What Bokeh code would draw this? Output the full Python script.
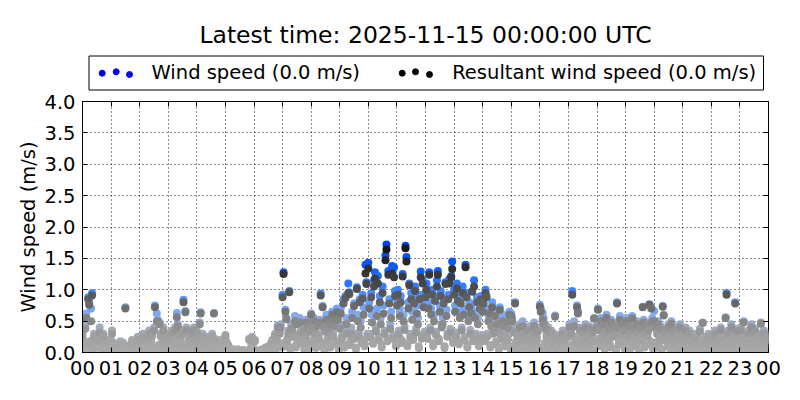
from bokeh.plotting import figure
from bokeh.models import ColumnDataSource, Range1d, FixedTicker, LinearAxis, LinearColorMapper, CustomJSTickFormatter, PrintfTickFormatter
from bokeh.layouts import column
from bokeh.embed import file_html
from bokeh.resources import INLINE
from bokeh.core.properties import value

TITLE = "Latest time: 2025-11-15 00:00:00 UTC"
LEGEND_LABELS = ["Wind speed (0.0 m/s)", "Resultant wind speed (0.0 m/s)"]
Y_LABEL = "Wind speed (m/s)"
HOUR_TICKS = list(range(25))
HOUR_LABELS = ["00", "01", "02", "03", "04", "05", "06", "07", "08", "09", "10", "11",
               "12", "13", "14", "15", "16", "17", "18", "19", "20", "21", "22", "23", "00"]
Y_TICKS = [0.0, 0.5, 1.0, 1.5, 2.0, 2.5, 3.0, 3.5, 4.0]
SAMPLE_MINUTES = 2

# wind speed (m/s), one row per hour, 2-minute samples
wind_speed = [
    0.35,0.20,0.10,0.45,0.62,0.05,0.88,0.80,0.18,0.70,0.95,0.02,0.30,0.18,0.12,0.25,0.12,0.25,0.40,0.22,0.08,0.08,0.30,0.15,0.15,0.05,0.03,0.20,0.10,0.20,
    0.20,0.35,0.05,0.15,0.10,0.12,0.05,0.12,0.02,0.08,0.18,0.08,0.10,0.15,0.00,0.72,0.06,0.10,0.10,0.04,0.04,0.12,0.20,0.15,0.08,0.15,0.01,0.10,0.25,0.06,
    0.15,0.25,0.08,0.10,0.30,0.15,0.20,0.12,0.03,0.28,0.35,0.20,0.18,0.30,0.10,0.40,0.75,0.05,0.62,0.52,0.12,0.48,0.30,0.02,0.22,0.40,0.18,0.28,0.15,0.06,
    0.20,0.30,0.12,0.15,0.35,0.04,0.25,0.40,0.20,0.63,0.45,0.08,0.30,0.20,0.15,0.35,0.84,0.02,0.66,0.40,0.10,0.30,0.22,0.18,0.35,0.18,0.05,0.40,0.25,0.13,
    0.35,0.28,0.06,0.48,0.64,0.15,0.30,0.20,0.02,0.15,0.25,0.10,0.10,0.18,0.04,0.12,0.30,0.12,0.63,0.22,0.01,0.08,0.15,0.08,0.10,0.20,0.03,0.06,0.12,0.05,
    0.28,0.18,0.02,0.12,0.08,0.00,0.02,0.04,0.05,0.00,0.03,0.01,0.01,0.05,0.00,0.00,0.02,0.03,0.00,0.04,0.00,0.01,0.00,0.02,0.03,0.22,0.00,0.10,0.25,0.08,
    0.05,0.20,0.00,0.02,0.00,0.03,0.03,0.00,0.00,0.05,0.02,0.01,0.08,0.04,0.02,0.10,0.06,0.05,0.15,0.20,0.10,0.12,0.30,0.08,0.25,0.43,0.15,0.35,0.45,0.12,
    0.92,1.28,0.15,0.68,0.55,0.22,0.35,0.98,0.08,0.45,0.40,0.30,0.30,0.58,0.12,0.48,0.25,0.18,0.55,0.35,0.25,0.20,0.40,0.05,0.30,0.52,0.20,0.45,0.38,0.10,
    0.62,0.40,0.20,0.55,0.35,0.10,0.48,0.30,0.28,0.52,0.94,0.15,0.74,0.45,0.05,0.38,0.60,0.22,0.42,0.50,0.12,0.33,0.65,0.30,0.55,0.48,0.18,0.70,0.58,0.08,
    0.45,0.70,0.25,0.35,0.85,0.12,0.90,0.55,0.35,1.10,0.96,0.18,0.40,0.65,0.28,0.78,0.30,0.08,1.04,0.60,0.32,0.85,0.50,0.20,0.92,0.72,0.15,1.40,1.12,0.30,
    1.43,0.80,0.30,0.95,0.60,0.18,1.15,1.28,0.40,0.70,1.22,0.25,0.90,0.55,0.12,1.05,0.75,0.35,1.55,1.72,0.22,1.30,0.85,0.45,0.65,1.38,0.28,1.36,0.98,0.15,
    0.85,1.00,0.35,0.70,0.90,0.20,1.25,0.60,0.42,1.70,1.52,0.15,0.80,1.10,0.30,0.95,0.65,0.25,0.88,1.05,0.38,0.75,0.55,0.10,0.92,1.29,0.28,1.15,0.82,0.33,
    0.95,1.10,0.28,0.80,1.28,0.40,0.70,1.00,0.15,0.60,0.90,0.33,1.15,1.30,0.22,0.75,0.98,0.45,0.55,0.85,0.10,1.12,0.68,0.30,0.92,1.17,0.38,1.22,1.45,0.20,
    1.00,0.75,0.32,1.10,0.90,0.18,0.65,0.85,0.40,1.05,0.70,0.25,1.40,0.95,0.12,0.60,0.80,0.36,0.72,0.98,0.22,1.15,0.65,0.30,0.88,0.55,0.15,0.78,0.90,0.28,
    0.75,0.85,0.22,1.00,0.90,0.30,0.60,0.70,0.12,0.50,0.80,0.35,0.45,0.65,0.18,0.55,0.40,0.08,0.72,0.35,0.28,0.60,0.50,0.15,0.30,0.55,0.25,0.45,0.65,0.10,
    0.62,0.55,0.10,0.40,0.80,0.18,0.35,0.25,0.05,0.45,0.30,0.22,0.50,0.20,0.12,0.38,0.28,0.02,0.15,0.42,0.15,0.32,0.22,0.08,0.48,0.35,0.20,0.25,0.40,0.04,
    0.76,0.70,0.08,0.63,0.55,0.15,0.45,0.30,0.03,0.40,0.25,0.12,0.35,0.20,0.20,0.30,0.59,0.06,0.22,0.15,0.10,0.28,0.18,0.02,0.35,0.25,0.14,0.12,0.30,0.05,
    0.30,0.45,0.12,0.35,0.98,0.05,0.50,0.25,0.20,0.75,0.66,0.10,0.40,0.20,0.02,0.35,0.28,0.15,0.45,0.15,0.08,0.30,0.42,0.18,0.22,0.38,0.04,0.55,0.40,0.22,
    0.45,0.70,0.15,0.40,0.55,0.25,0.30,0.50,0.08,0.35,0.60,0.20,0.42,0.28,0.12,0.52,0.38,0.30,0.48,0.33,0.05,0.80,0.45,0.18,0.58,0.30,0.22,0.50,0.40,0.10,
    0.40,0.55,0.20,0.30,0.48,0.10,0.35,0.58,0.28,0.42,0.25,0.15,0.50,0.38,0.05,0.45,0.30,0.22,0.73,0.52,0.12,0.35,0.47,0.30,0.40,0.77,0.18,0.71,0.55,0.08,
    0.66,0.45,0.12,0.35,0.50,0.20,0.30,0.42,0.05,0.74,0.60,0.25,0.38,0.25,0.15,0.45,0.32,0.08,0.50,0.28,0.18,0.40,0.22,0.02,0.35,0.30,0.10,0.45,0.25,0.14,
    0.30,0.20,0.05,0.40,0.25,0.12,0.15,0.35,0.02,0.22,0.10,0.08,0.30,0.18,0.15,0.28,0.12,0.03,0.38,0.20,0.10,0.48,0.15,0.00,0.25,0.08,0.06,0.30,0.18,0.04,
    0.20,0.30,0.08,0.15,0.35,0.02,0.10,0.25,0.12,0.18,0.40,0.05,0.12,0.28,0.18,0.56,0.95,0.00,0.35,0.22,0.10,0.45,0.15,0.04,0.30,0.80,0.15,0.38,0.25,0.06,
    0.25,0.40,0.10,0.18,0.50,0.04,0.30,0.22,0.15,0.35,0.15,0.02,0.45,0.28,0.08,0.20,0.38,0.12,0.12,0.30,0.00,0.25,0.48,0.06,0.18,0.35,0.18,0.22,0.30,0.03,
]

# resultant wind speed (m/s), same samples
resultant_speed = [
    0.28,0.15,0.07,0.38,0.55,0.03,0.85,0.76,0.14,0.50,0.91,0.01,0.25,0.12,0.09,0.20,0.08,0.20,0.32,0.18,0.05,0.05,0.26,0.11,0.10,0.03,0.02,0.15,0.06,0.16,
    0.15,0.30,0.03,0.10,0.06,0.08,0.03,0.08,0.01,0.05,0.12,0.05,0.06,0.10,0.00,0.70,0.03,0.06,0.06,0.02,0.02,0.08,0.15,0.10,0.05,0.10,0.00,0.06,0.20,0.04,
    0.10,0.20,0.05,0.06,0.25,0.10,0.15,0.08,0.02,0.22,0.30,0.15,0.12,0.26,0.07,0.35,0.72,0.03,0.50,0.50,0.08,0.45,0.26,0.01,0.18,0.35,0.13,0.22,0.10,0.04,
    0.15,0.25,0.08,0.10,0.30,0.02,0.20,0.35,0.15,0.56,0.42,0.05,0.25,0.15,0.10,0.30,0.80,0.01,0.64,0.35,0.06,0.25,0.18,0.13,0.30,0.12,0.03,0.35,0.20,0.09,
    0.30,0.22,0.04,0.45,0.62,0.10,0.25,0.15,0.01,0.10,0.20,0.06,0.06,0.14,0.02,0.08,0.25,0.08,0.62,0.18,0.00,0.05,0.10,0.05,0.06,0.15,0.02,0.03,0.08,0.03,
    0.26,0.15,0.01,0.08,0.05,0.00,0.01,0.02,0.03,0.00,0.02,0.00,0.00,0.03,0.00,0.00,0.01,0.02,0.00,0.02,0.00,0.00,0.00,0.01,0.02,0.20,0.00,0.06,0.22,0.05,
    0.03,0.18,0.00,0.01,0.00,0.02,0.02,0.00,0.00,0.03,0.01,0.00,0.05,0.02,0.01,0.07,0.04,0.03,0.10,0.15,0.06,0.08,0.26,0.05,0.20,0.40,0.10,0.30,0.40,0.08,
    0.88,1.25,0.10,0.65,0.53,0.18,0.30,0.96,0.05,0.38,0.35,0.25,0.25,0.50,0.08,0.45,0.20,0.14,0.48,0.30,0.20,0.15,0.35,0.03,0.26,0.48,0.15,0.40,0.33,0.07,
    0.60,0.35,0.15,0.50,0.30,0.07,0.42,0.26,0.22,0.48,0.91,0.10,0.72,0.40,0.03,0.33,0.52,0.18,0.38,0.45,0.08,0.28,0.60,0.25,0.50,0.42,0.13,0.64,0.52,0.05,
    0.38,0.62,0.20,0.25,0.78,0.08,0.87,0.45,0.30,0.95,0.93,0.12,0.30,0.55,0.22,0.74,0.22,0.05,1.01,0.50,0.26,0.80,0.40,0.15,0.86,0.60,0.10,1.26,1.09,0.25,
    1.34,0.70,0.25,0.88,0.48,0.14,1.05,1.18,0.34,0.58,1.10,0.20,0.80,0.45,0.08,0.95,0.62,0.30,1.47,1.64,0.18,1.24,0.78,0.38,0.55,1.26,0.22,1.20,0.90,0.10,
    0.75,0.92,0.28,0.58,0.80,0.15,1.21,0.50,0.36,1.66,1.45,0.10,0.70,1.07,0.25,0.85,0.52,0.20,0.78,0.98,0.32,0.62,0.45,0.07,0.85,1.20,0.22,1.10,0.72,0.27,
    0.88,1.00,0.22,0.70,1.24,0.35,0.60,0.92,0.10,0.50,0.82,0.28,1.05,1.24,0.18,0.65,0.90,0.40,0.45,0.78,0.07,1.09,0.58,0.25,0.85,1.10,0.32,1.20,1.33,0.15,
    0.92,0.65,0.26,1.02,0.82,0.13,0.55,0.78,0.35,0.95,0.60,0.20,1.36,0.88,0.08,0.50,0.72,0.30,0.62,0.97,0.18,1.05,0.55,0.25,0.80,0.45,0.10,0.70,0.85,0.22,
    0.65,0.78,0.18,0.95,0.88,0.25,0.50,0.62,0.08,0.42,0.72,0.30,0.35,0.58,0.13,0.45,0.32,0.05,0.68,0.28,0.22,0.50,0.42,0.10,0.25,0.48,0.20,0.38,0.60,0.06,
    0.58,0.50,0.07,0.32,0.78,0.13,0.28,0.18,0.03,0.40,0.25,0.17,0.42,0.15,0.08,0.30,0.22,0.01,0.10,0.35,0.10,0.26,0.18,0.05,0.42,0.30,0.15,0.20,0.34,0.02,
    0.73,0.65,0.05,0.52,0.45,0.10,0.38,0.25,0.02,0.35,0.20,0.08,0.30,0.15,0.15,0.25,0.57,0.04,0.18,0.10,0.06,0.22,0.12,0.01,0.30,0.20,0.10,0.08,0.25,0.03,
    0.25,0.40,0.08,0.30,0.92,0.03,0.42,0.20,0.15,0.72,0.62,0.06,0.35,0.15,0.01,0.30,0.22,0.10,0.40,0.10,0.05,0.25,0.38,0.13,0.18,0.32,0.02,0.54,0.35,0.17,
    0.40,0.68,0.10,0.35,0.50,0.20,0.25,0.45,0.05,0.30,0.55,0.15,0.38,0.22,0.08,0.48,0.34,0.25,0.42,0.28,0.03,0.78,0.40,0.13,0.52,0.26,0.17,0.46,0.35,0.06,
    0.35,0.50,0.15,0.25,0.42,0.06,0.30,0.54,0.23,0.38,0.20,0.10,0.45,0.32,0.03,0.40,0.25,0.18,0.72,0.48,0.08,0.30,0.42,0.25,0.35,0.76,0.13,0.70,0.50,0.05,
    0.50,0.40,0.08,0.30,0.45,0.15,0.25,0.38,0.03,0.73,0.59,0.20,0.32,0.20,0.10,0.40,0.28,0.05,0.46,0.22,0.13,0.35,0.18,0.01,0.30,0.25,0.06,0.40,0.20,0.10,
    0.25,0.15,0.03,0.35,0.20,0.08,0.10,0.30,0.01,0.18,0.06,0.05,0.25,0.12,0.10,0.22,0.08,0.02,0.33,0.15,0.06,0.47,0.10,0.00,0.20,0.05,0.04,0.25,0.12,0.02,
    0.15,0.25,0.05,0.10,0.30,0.01,0.06,0.20,0.08,0.12,0.36,0.03,0.08,0.22,0.13,0.55,0.92,0.00,0.30,0.18,0.06,0.40,0.10,0.02,0.25,0.78,0.10,0.34,0.20,0.04,
    0.20,0.35,0.06,0.12,0.48,0.02,0.25,0.18,0.10,0.30,0.10,0.01,0.40,0.22,0.05,0.15,0.33,0.08,0.08,0.25,0.00,0.20,0.46,0.04,0.12,0.30,0.13,0.18,0.25,0.02,
]

sample_hours = [i * SAMPLE_MINUTES / 60.0 for i in range(len(wind_speed))]

FONT = "DejaVu Sans"
FIG_W = 800
BORDER_L, BORDER_R = 82, 32
HEADER_H = 92


def make_palette(stops, n=200):
    out = []
    for i in range(n):
        f = i / (n - 1)
        for (a, ca), (b, cb) in zip(stops[:-1], stops[1:]):
            if a <= f <= b:
                t = (f - a) / (b - a) if b > a else 0
                c = [round(ca[k] + (cb[k] - ca[k]) * t) for k in range(3)]
                out.append("#%02x%02x%02x" % tuple(c))
                break
    return out


wind_palette = make_palette([
    (0.0, (168, 168, 168)), (0.2, (160, 170, 190)), (0.3, (130, 170, 240)),
    (0.4, (100, 160, 255)), (0.5, (60, 130, 255)), (0.65, (20, 95, 255)),
    (0.8, (0, 75, 240)), (1.0, (0, 60, 220))])
res_palette = make_palette([
    (0.0, (170, 170, 170)), (0.125, (160, 160, 160)), (0.25, (135, 135, 135)),
    (0.375, (105, 105, 105)), (0.5, (80, 80, 80)), (0.625, (55, 55, 55)),
    (0.75, (35, 35, 35)), (0.875, (15, 15, 15)), (1.0, (0, 0, 0))])

wind_mapper = LinearColorMapper(palette=wind_palette, low=0.0, high=2.0)
res_mapper = LinearColorMapper(palette=res_palette, low=0.0, high=2.0)

source = ColumnDataSource(dict(t=sample_hours, ws=wind_speed, rs=resultant_speed))

p = figure(width=FIG_W, height=400 - HEADER_H, x_range=Range1d(0, 24), y_range=Range1d(0, 4),
           output_backend="svg", toolbar_location=None,
           min_border_left=BORDER_L, min_border_right=BORDER_R, min_border_top=9, min_border_bottom=48)
p.outline_line_color = "black"
p.outline_line_width = 1

p.scatter(x="t", y="ws", source=source, size=8, line_color=None,
          fill_color={"field": "ws", "transform": wind_mapper})
p.scatter(x="t", y="rs", source=source, size=8, line_color=None,
          fill_color={"field": "rs", "transform": res_mapper})

p.xaxis.ticker = FixedTicker(ticks=HOUR_TICKS)
p.xaxis.major_label_overrides = {t: l for t, l in zip(HOUR_TICKS, HOUR_LABELS)}
p.yaxis.ticker = FixedTicker(ticks=Y_TICKS)
p.yaxis.formatter = PrintfTickFormatter(format="%.1f")
p.yaxis.axis_label = Y_LABEL

for ax in (p.xaxis[0], p.yaxis[0]):
    ax.major_tick_in = 5
    ax.major_tick_out = 0
    ax.minor_tick_line_color = None
    ax.major_label_text_font = FONT
    ax.major_label_text_font_size = "19.5px"
    ax.major_label_text_color = "black"
    ax.axis_label_text_font = FONT
    ax.axis_label_text_font_size = "19.5px"
    ax.axis_label_text_font_style = "normal"
    ax.axis_label_text_color = "black"
    ax.axis_line_color = "black"
    ax.major_tick_line_color = "black"
p.xaxis.major_label_standoff = 8
p.yaxis.major_label_standoff = 7
p.yaxis.axis_label_standoff = 1

empty_fmt = CustomJSTickFormatter(code="return '';")
r_axis = LinearAxis(ticker=FixedTicker(ticks=Y_TICKS), formatter=empty_fmt,
                    major_tick_in=5, major_tick_out=0, minor_tick_line_color=None,
                    axis_line_color=None, major_label_standoff=0)
t_axis = LinearAxis(ticker=FixedTicker(ticks=HOUR_TICKS), formatter=empty_fmt,
                    major_tick_in=5, major_tick_out=0, minor_tick_line_color=None,
                    axis_line_color=None, major_label_standoff=0)
p.add_layout(r_axis, "right")
p.add_layout(t_axis, "above")

for g in (p.xgrid[0], p.ygrid[0]):
    g.grid_line_color = "black"
    g.grid_line_dash = "1 3"
    g.grid_line_width = 1
    g.grid_line_alpha = 0.9
p.xgrid.ticker = FixedTicker(ticks=HOUR_TICKS)
p.ygrid.ticker = FixedTicker(ticks=Y_TICKS)

# header: title and legend; x in page pixels over the plot frame's span (82..768)
h = figure(width=FIG_W, height=HEADER_H, x_range=Range1d(BORDER_L, FIG_W - BORDER_R),
           y_range=Range1d(HEADER_H, 0),
           output_backend="svg", toolbar_location=None,
           min_border_left=BORDER_L, min_border_right=BORDER_R, min_border_top=0, min_border_bottom=0,
           x_axis_type=None, y_axis_type=None)
h.outline_line_color = None
h.text(x=[425], y=[34], text=[TITLE], text_font=value(FONT), text_font_size=value("23.5px"),
       text_align="center", text_baseline="middle", text_color="black")
h.quad(left=[88.5], right=[763], top=[55.5], bottom=[89.5], fill_color=None,
       line_color="black", line_width=1)
h.scatter(x=[101.7, 115.7, 129], y=[72.7, 71.3, 74], size=6, color="blue")
h.scatter(x=[401.7, 415, 429], y=[72.7, 71.3, 74], size=6, color="black")
h.text(x=[151, 451.7], y=[72, 72], text=LEGEND_LABELS, text_font=value(FONT),
       text_font_size=value("19.5px"), text_align="left", text_baseline="middle",
       text_color="black")

layout = column(h, p, spacing=0)
open("out.html", "w").write(file_html(layout, INLINE))
